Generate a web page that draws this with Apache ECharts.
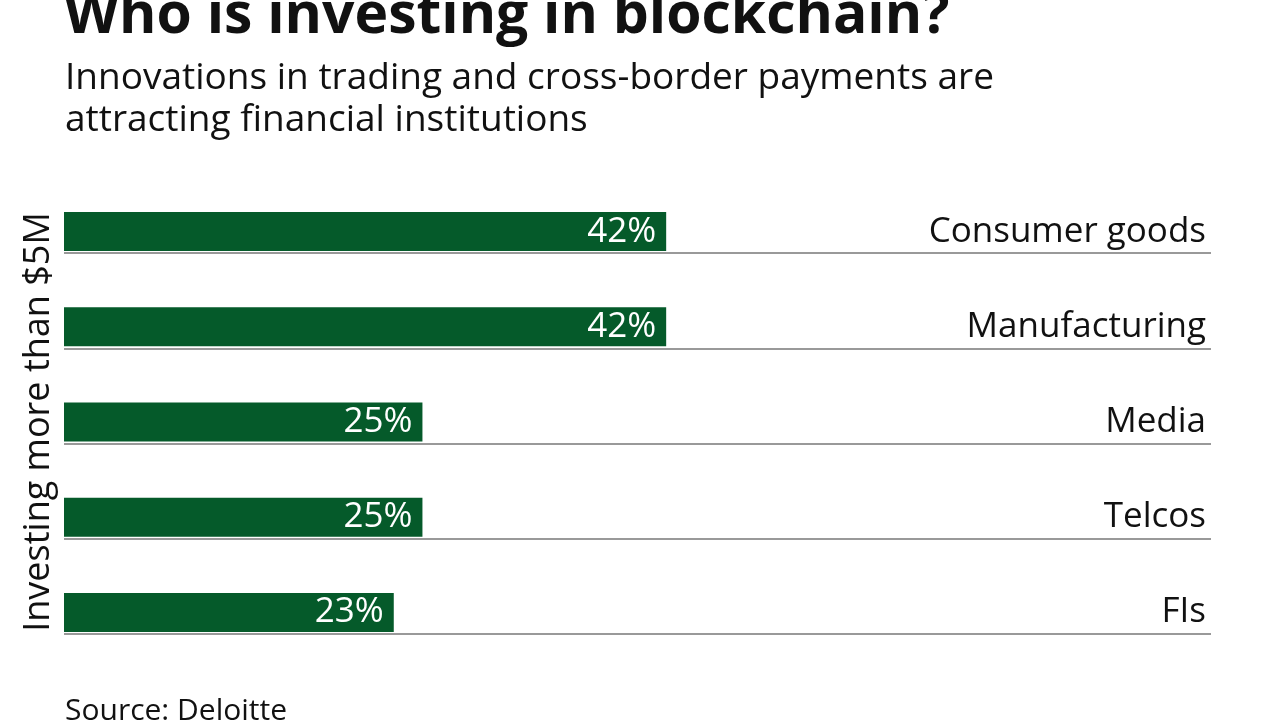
<!DOCTYPE html>
<html>
<head>
<meta charset="utf-8">
<script src="https://cdn.jsdelivr.net/npm/echarts@6/dist/echarts.min.js"></script>
<style>
  html, body { margin: 0; padding: 0; background: #ffffff; }
  #chart { width: 1280px; height: 720px; }
</style>
</head>
<body>
<div id="chart"></div>
<script>
// data
var categories = ["Consumer goods", "Manufacturing", "Media", "Telcos", "FIs"];
var shares = [42, 42, 25, 25, 23];
var xMax = 80;

var fuente = "'Open Sans', Lato, sans-serif";
var verde = "#055a2a";

var dom = document.getElementById("chart");
var myChart = echarts.init(dom, null, { renderer: "canvas" });

var option = {
  animation: false,
  backgroundColor: "#ffffff",
  title: [
    {
      text: "Who is investing in blockchain?",
      left: 59,
      top: -17,
      textStyle: { fontFamily: fuente, fontSize: 57, fontWeight: "bold", color: "#111111" }
    },
    {
      text: "Innovations in trading and cross-border payments are\nattracting financial institutions",
      left: 60,
      top: 52,
      textStyle: { fontFamily: fuente, fontSize: 37, fontWeight: "normal", color: "#111111", lineHeight: 42 }
    },
    {
      text: "Source: Deloitte",
      left: 60,
      top: 691,
      textStyle: { fontFamily: fuente, fontSize: 30, fontWeight: "normal", color: "#111111" }
    }
  ],
  grid: [
    // bars
    { left: 64, right: 69, top: 184, bottom: 60 },
    // separator rules under each bar
    { left: 64, right: 69, top: 158, bottom: 86 }
  ],
  xAxis: [
    { type: "value", gridIndex: 0, min: 0, max: xMax, show: false },
    { type: "value", gridIndex: 1, min: 0, max: xMax, show: false }
  ],
  yAxis: [
    {
      type: "category",
      gridIndex: 0,
      data: categories,
      inverse: true,
      position: "left",
      axisLine: { show: false },
      axisTick: { show: false },
      axisLabel: { show: false },
      splitLine: { show: false },
      name: "Investing more than $5M",
      nameLocation: "middle",
      nameRotate: 90,
      nameGap: 7,
      nameTextStyle: { fontFamily: fuente, fontSize: 36, color: "#111111" }
    },
    {
      type: "category",
      gridIndex: 0,
      data: categories,
      inverse: true,
      position: "right",
      axisLine: { show: false },
      axisTick: { show: false },
      axisLabel: {
        inside: true,
        margin: 5,
        fontFamily: fuente,
        fontSize: 35,
        color: "#111111"
      },
      splitLine: { show: false }
    },
    {
      type: "category",
      gridIndex: 1,
      data: categories,
      inverse: true,
      axisLine: { show: false },
      axisTick: { show: false },
      axisLabel: { show: false },
      splitLine: {
        show: true,
        showMinLine: false,
        lineStyle: { color: "#777777", width: 1.5 }
      }
    }
  ],
  series: [
    {
      type: "bar",
      xAxisIndex: 0,
      yAxisIndex: 0,
      data: shares,
      barWidth: 39,
      itemStyle: { color: verde },
      label: {
        show: true,
        position: "insideRight",
        distance: 10,
        formatter: "{c}%",
        fontFamily: fuente,
        fontSize: 35,
        color: "#ffffff"
      }
    }
  ]
};

myChart.setOption(option);
window.addEventListener("resize", myChart.resize);
</script>
</body>
</html>
